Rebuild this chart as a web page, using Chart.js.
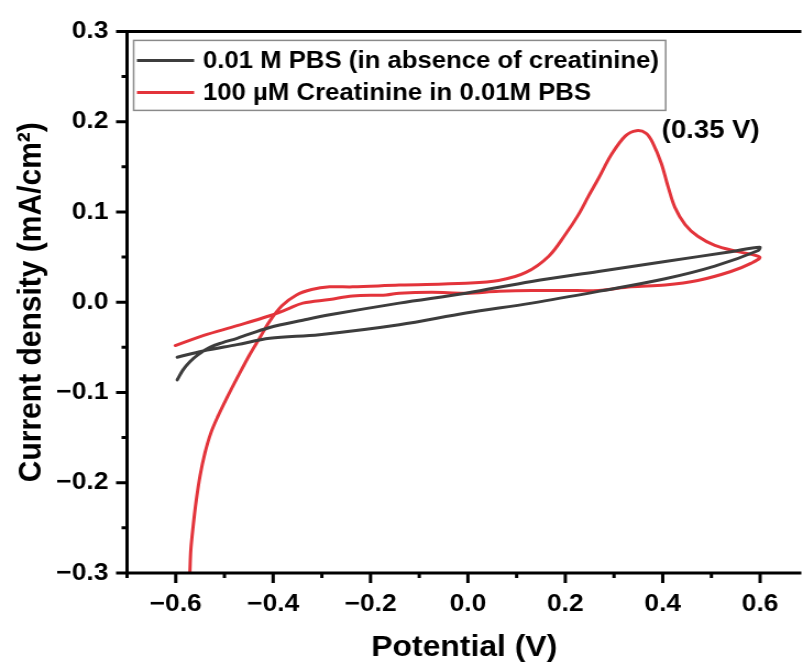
<!DOCTYPE html>
<html>
<head>
<meta charset="utf-8">
<script src="https://cdn.jsdelivr.net/npm/chart.js@4.4.1/dist/chart.umd.min.js"></script>
<style>
html, body { margin: 0; padding: 0; background: #fff; overflow: hidden; }
/* the original figure is a little stretched sideways */
#wrap { width: 730px; height: 665px; transform: scaleX(1.1); transform-origin: 0 0; }
</style>
</head>
<body>
<div id="wrap"><canvas id="cv"></canvas></div>
<script>
const seriesLabels = ["0.01 M PBS (in absence of creatinine)", "100 \u00b5M Creatinine in 0.01M PBS"];
const seriesColors = ["#3d3d3d", "#e3343b"];

// 0.01 M PBS, potential (V) / current density (mA/cm2)
const pbsPotential = [-0.597, -0.585, -0.571, -0.554, -0.530, -0.505, -0.474, -0.407, -0.339, -0.284, -0.141, -0.004, 0.131, 0.268,
	0.405, 0.540, 0.599,
	0.595, 0.507, 0.405, 0.268, 0.131, -0.004, -0.141, -0.305, -0.407, -0.474, -0.544, -0.597];
const pbsCurrent = [-0.086, -0.075, -0.066, -0.058, -0.050, -0.045, -0.040, -0.028, -0.020, -0.014, -0.001, 0.010, 0.023, 0.034,
	0.045, 0.056, 0.061,
	0.057, 0.040, 0.026, 0.012, -0.001, -0.012, -0.025, -0.036, -0.040, -0.047, -0.054, -0.061];

// 100 uM creatinine
const creaPotential = [-0.572, -0.571, -0.569, -0.564, -0.558, -0.550, -0.540, -0.528, -0.513, -0.495, -0.472, -0.448, -0.427,
	-0.407, -0.382, -0.352, -0.321, -0.284, -0.237, -0.141, -0.004, 0.063, 0.119, 0.166, 0.200, 0.227, 0.247, 0.268, 0.294,
	0.323, 0.346, 0.366, 0.380, 0.397, 0.411, 0.425, 0.446, 0.472, 0.507, 0.554, 0.599,
	0.581, 0.540, 0.472, 0.405, 0.335, 0.268, 0.200, 0.131, 0.063, -0.004, -0.074, -0.141, -0.168, -0.237, -0.284, -0.339,
	-0.372, -0.407, -0.474, -0.544, -0.601];
const creaCurrent = [-0.310, -0.299, -0.274, -0.247, -0.220, -0.192, -0.167, -0.145, -0.126, -0.106, -0.082, -0.058, -0.039,
	-0.021, -0.004, 0.008, 0.014, 0.017, 0.017, 0.019, 0.021, 0.024, 0.033, 0.051, 0.075, 0.097, 0.117, 0.137, 0.163,
	0.184, 0.190, 0.187, 0.176, 0.154, 0.128, 0.105, 0.086, 0.073, 0.063, 0.056, 0.050,
	0.043, 0.034, 0.024, 0.019, 0.017, 0.013, 0.013, 0.013, 0.012, 0.010, 0.011, 0.010, 0.008, 0.007, 0.003, -0.001,
	-0.008, -0.015, -0.026, -0.037, -0.048];

const xMajorTicks = [-0.6, -0.4, -0.2, 0.0, 0.2, 0.4, 0.6];
const xMinorTicks = [-0.7, -0.5, -0.3, -0.1, 0.1, 0.3, 0.5];
const yMajorTicks = [-0.3, -0.2, -0.1, 0.0, 0.1, 0.2, 0.3];
const yMinorTicks = [-0.25, -0.15, -0.05, 0.05, 0.15, 0.25];

const peakLabel = "(0.35 V)";
const peakLabelAt = {x: 0.398, y: 0.19};

const FONT = '"Liberation Sans", Arial, Helvetica, sans-serif';

function fmt(v) {
	const s = Math.abs(v).toFixed(1);
	return (v < -1e-9 ? "\u2212" : "") + s;
}

function points(xs, ys) {
	return xs.map((x, i) => ({"x": x, "y": ys[i]}));
}

// axis lines + outward tick marks, like the origin plot
const frame = {
	id: "frame",
	afterDraw(chart) {
		const ctx = chart.ctx;
		const a = chart.chartArea;
		const xs = chart.scales.x;
		const ys = chart.scales.y;
		ctx.save();
		ctx.strokeStyle = "#000";
		ctx.lineWidth = 3;
		ctx.beginPath();
		ctx.moveTo(a.left - 1.5, a.top);
		ctx.lineTo(a.right, a.top);
		ctx.moveTo(a.left, a.top);
		ctx.lineTo(a.left, a.bottom + 1.5);
		ctx.moveTo(a.left - 1.5, a.bottom);
		ctx.lineTo(a.right, a.bottom);
		for (const v of xMajorTicks) {
			const px = xs.getPixelForValue(v);
			ctx.moveTo(px, a.bottom);
			ctx.lineTo(px, a.bottom + 10);
		}
		for (const v of xMinorTicks) {
			const px = xs.getPixelForValue(v);
			ctx.moveTo(px, a.bottom);
			ctx.lineTo(px, a.bottom + 5);
		}
		for (const v of yMajorTicks) {
			const py = ys.getPixelForValue(v);
			ctx.moveTo(a.left, py);
			ctx.lineTo(a.left - 10, py);
		}
		for (const v of yMinorTicks) {
			const py = ys.getPixelForValue(v);
			ctx.moveTo(a.left, py);
			ctx.lineTo(a.left - 5, py);
		}
		ctx.stroke();
		ctx.restore();
	},
};

const legendBox = {
	id: "legendBox",
	afterDraw(chart) {
		const ctx = chart.ctx;
		const a = chart.chartArea;
		const left = a.left + 6;
		const top = a.top + 9;
		ctx.save();
		ctx.font = "bold 23.4px " + FONT;
		let w = 0;
		chart.data.datasets.forEach((ds) => { w = Math.max(w, ctx.measureText(ds.label).width); });
		ctx.strokeStyle = "#8a8a8a";
		ctx.lineWidth = 1.5;
		ctx.strokeRect(left, top, 63 + w + 6, 70);
		chart.data.datasets.forEach((ds, i) => {
			const y = top + 20 + i * 32;
			ctx.strokeStyle = ds.borderColor;
			ctx.lineWidth = 3;
			ctx.beginPath();
			ctx.moveTo(left + 3, y);
			ctx.lineTo(left + 55, y);
			ctx.stroke();
			ctx.fillStyle = "#000";
			ctx.textBaseline = "middle";
			ctx.textAlign = "left";
			ctx.fillText(ds.label, left + 63, y + 1);
		});
		ctx.restore();
	},
};

const peakText = {
	id: "peakText",
	afterDraw(chart) {
		const ctx = chart.ctx;
		ctx.save();
		ctx.font = "bold 25px " + FONT;
		ctx.fillStyle = "#000";
		ctx.textBaseline = "middle";
		ctx.textAlign = "left";
		ctx.fillText(peakLabel, chart.scales.x.getPixelForValue(peakLabelAt.x), chart.scales.y.getPixelForValue(peakLabelAt.y));
		ctx.restore();
	},
};

const tickFont = {"family": FONT, "size": 24, "weight": "bold"};

new Chart(document.getElementById("cv"), {
	"type": "scatter",
	"data": {
		"datasets": [
			{
				"label": seriesLabels[0],
				"data": points(pbsPotential, pbsCurrent),
				"borderColor": seriesColors[0],
				"showLine": true,
			},
			{
				"label": seriesLabels[1],
				"data": points(creaPotential, creaCurrent),
				"borderColor": seriesColors[1],
				"showLine": true,
			},
		],
	},
	"options": {
		"responsive": true,
		"maintainAspectRatio": false,
		"animation": false,
		"layout": {"padding": {"top": 24, "right": 0, "bottom": 0, "left": 0}},
		"elements": {
			"point": {"radius": 0},
			"line": {"borderWidth": 3, "tension": 0.35, "borderCapStyle": "round", "borderJoinStyle": "round"},
		},
		"plugins": {
			"legend": {"display": false},
			"tooltip": {"enabled": false},
		},
		"scales": {
			"x": {
				"type": "linear",
				"min": -0.7,
				"max": 0.6847,
				"afterBuildTicks": (scale) => { scale.ticks = xMajorTicks.map((v) => ({"value": v})); },
				"afterFit": (scale) => { scale.height = 92; },
				"grid": {"display": false, "drawTicks": false},
				"border": {"display": false},
				"ticks": {"padding": 17, "font": tickFont, "color": "#000", "autoSkip": false, "maxRotation": 0,
					"callback": (v) => fmt(v)},
				"title": {"display": true, "text": "Potential (V)", "color": "#000",
					"font": {"family": FONT, "size": 29, "weight": "bold"}, "padding": {"top": 0, "bottom": 0}},
			},
			"y": {
				"type": "linear",
				"min": -0.3,
				"max": 0.3,
				"afterBuildTicks": (scale) => { scale.ticks = yMajorTicks.map((v) => ({"value": v})); },
				"afterFit": (scale) => { scale.width = 115.5; },
				"grid": {"display": false, "drawTicks": false},
				"border": {"display": false},
				"ticks": {"padding": 17, "font": tickFont, "color": "#000", "autoSkip": false,
					"callback": (v) => fmt(v)},
				"title": {"display": true, "text": "Current density (mA/cm\u00b2)", "color": "#000",
					"font": {"family": FONT, "size": 30, "weight": "bold"}, "padding": {"top": 11, "bottom": 0}},
			},
		},
	},
	"plugins": [frame, legendBox, peakText],
});
</script>
</body>
</html>
